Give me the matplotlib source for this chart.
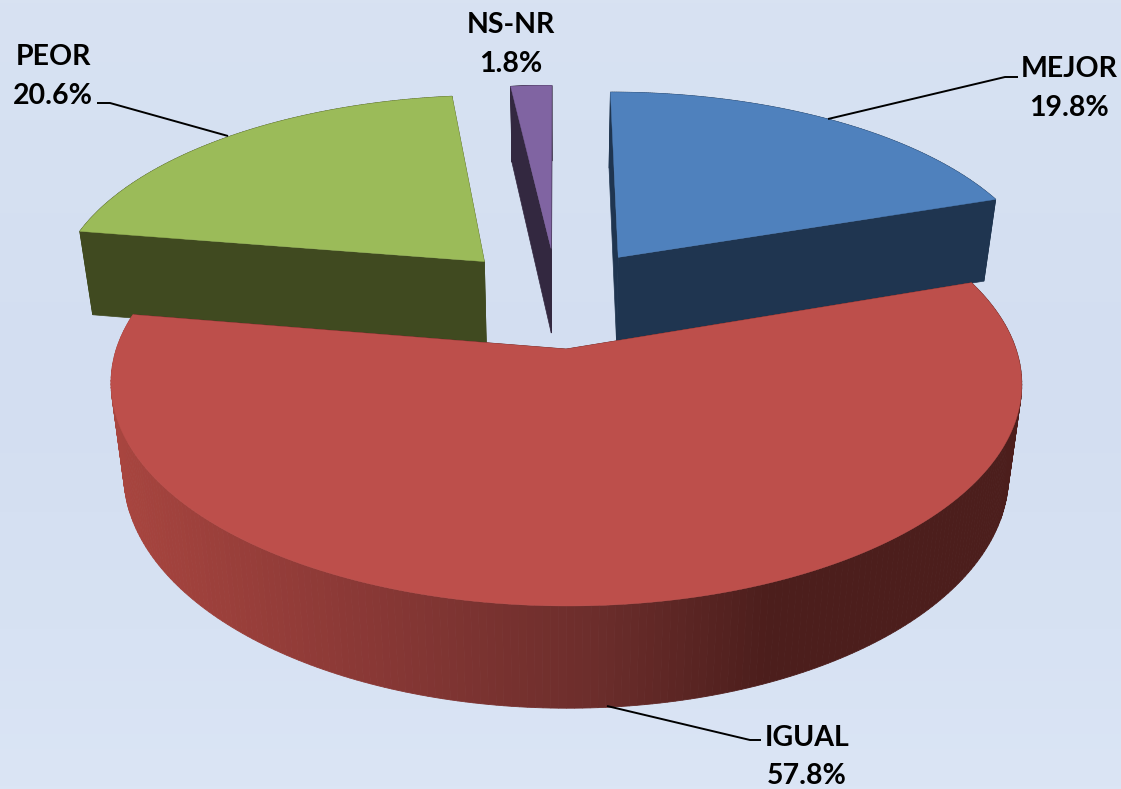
import numpy as np
import matplotlib
matplotlib.use('Agg')
import matplotlib.pyplot as plt
from matplotlib.colors import to_rgb
from matplotlib.patches import Polygon

# data
labels = ['MEJOR', 'IGUAL', 'PEOR', 'NS-NR']
values = [19.8, 57.8, 20.6, 1.8]

# style
top_colors = ['#4F81BD', '#BD4F4B', '#9BBB59', '#8064A2']
side_colors = ['#1F3550', '#4C1E1C', '#404A20', '#332840']
draw_order = [0, 2, 3, 1]
label_xy = [(1069, 69), (807, 738), (53, 57), (511, 25)]
leaders = [[(1018, 77), (1005, 77), (828, 119)],
           [(761, 740), (750, 740), (607, 706)],
           [(97, 103), (110, 103), (228, 136)]]

# view of the tilted disc, in pixels
CX, CY = 557, 297
R, A, B = 433, 201, 88
K, C = 0.15, 0.012
SHRINK = 0.016  # bottom of the disc is a bit narrower in x
EXPLODE = 0.25


def project(u, v, z=0):
    w = 1 + K * v + C * z
    return CX + R * u / w * (1 - SHRINK * z), CY + (-A * v + B * z) / w


fig = plt.figure(figsize=(11.21, 7.89), dpi=100)
ax = fig.add_axes([0, 0, 1, 1])
ax.set_xlim(0, 1121)
ax.set_ylim(789, 0)
ax.axis('off')

# background
stops = [0, 0.15, 0.5, 0.8, 1]
bg = np.array([to_rgb(c) for c in ['#D8E2F2', '#D6E1F2', '#D3DEF1', '#D7E2F3', '#DBE5F5']])
yy = np.linspace(0, 1, 256)
grad = np.stack([np.interp(yy, stops, bg[:, i]) for i in range(3)], axis=1)[:, None, :]
ax.imshow(grad, extent=(0, 1121, 789, 0), aspect='auto', zorder=0)

edges = np.concatenate([[0], np.cumsum(values)]) / sum(values) * 2 * np.pi

# red rim goes from lit on the left to dark on the right
rim_x = [110, 350, 600, 770, 1030]
rim_rgb = np.array([to_rgb(c) for c in ['#A8453F', '#8B3936', '#6B2D2B', '#4C1E1C', '#4C1E1C']])

z = 1
for i in draw_order:
    a0, a1 = edges[i], edges[i + 1]
    mid = (a0 + a1) / 2
    ou, ov = EXPLODE * np.sin(mid), EXPLODE * np.cos(mid)
    t = np.linspace(a0, a1, 240)
    u = ou + np.sin(t)
    v = ov + np.cos(t)

    # radial walls
    for a in (a0, a1):
        wall = [project(ou, ov), project(ou + np.sin(a), ov + np.cos(a)),
                project(ou + np.sin(a), ov + np.cos(a), 1), project(ou, ov, 1)]
        ax.add_patch(Polygon(wall, closed=True, fc=side_colors[i], ec=side_colors[i], lw=0.5, zorder=z))
    z += 1

    # outer rim
    for j in range(len(t) - 1):
        quad = [project(u[j], v[j]), project(u[j + 1], v[j + 1]),
                project(u[j + 1], v[j + 1], 1), project(u[j], v[j], 1)]
        if i == 1:
            xm = (quad[0][0] + quad[1][0]) / 2
            col = [np.interp(xm, rim_x, rim_rgb[:, k]) for k in range(3)]
        else:
            col = side_colors[i]
        ax.add_patch(Polygon(quad, closed=True, fc=col, ec=col, lw=0.6, zorder=z))
    z += 1

    # top face
    px, py = project(u, v)
    ax0, ay0 = project(ou, ov)
    face = np.column_stack([np.r_[ax0, px], np.r_[ay0, py]])
    ax.add_patch(Polygon(face, closed=True, fc=top_colors[i], ec=top_colors[i], lw=0.3, zorder=z))
    z += 1

# leader lines
for pts in leaders:
    xs, ys = zip(*pts)
    ax.plot(xs, ys, color='black', lw=1.4, zorder=z, solid_capstyle='butt')

# labels
for i, name in enumerate(labels):
    x, y = label_xy[i]
    ax.text(x, y, name, ha='center', va='center', fontsize=20.5, fontweight='bold',
            family='Lato', color='black', zorder=z + 1)
    ax.text(x, y + 38.5, f'{values[i]}%', ha='center', va='center', fontsize=20.5,
            fontweight='bold', family='Lato', color='black', zorder=z + 1)

fig.savefig('out.png', dpi=100)
